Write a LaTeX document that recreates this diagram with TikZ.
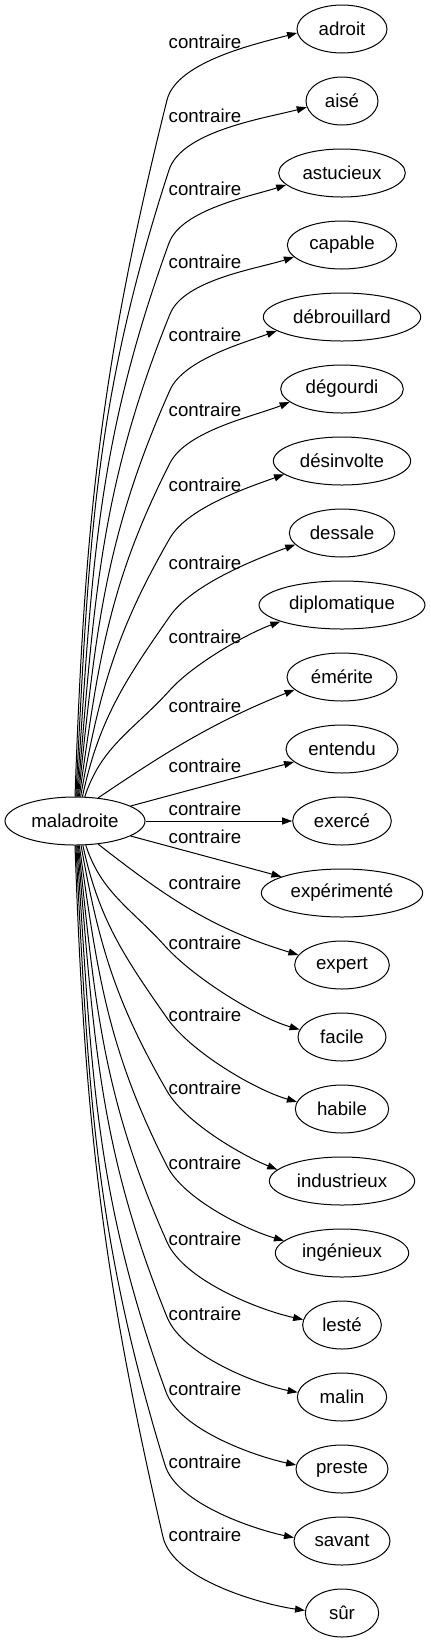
\documentclass[tikz,border=0pt]{standalone}
\usepackage{fontspec}
\setmainfont{Liberation Sans}
\usetikzlibrary{shapes.geometric, arrows.meta}

\begin{document}
\begin{tikzpicture}[
          x=0.75pt, y=0.75pt,
          every node/.style={font=\fontsize{14pt}{17pt}\selectfont, inner sep=0pt},
          word/.style={draw, ellipse, line width=0.75pt, minimum height=36pt, minimum width=#1},
          rel/.style={line width=0.75pt, -{Triangle[length=7.5pt, width=5.25pt]}}
        ]
        \useasboundingbox (0,0) rectangle (430,-1643);

        % Source word
        \node[word=105pt] (mal) at (75,-821) {maladroite};

        % Opposite words (right column)
        \node[word=67.5pt] (adroit) at (342,-29) {adroit};
        \node[word=54pt] (aise) at (342,-101) {aisé};
        \node[word=95pt] (astucieux) at (342,-173) {astucieux};
        \node[word=82pt] (capable) at (342,-245) {capable};
        \node[word=118pt] (debrouillard) at (342,-317) {débrouillard};
        \node[word=92pt] (degourdi) at (342,-389) {dégourdi};
        \node[word=103pt] (desinvolte) at (342,-461) {désinvolte};
        \node[word=79pt] (dessale) at (342,-533) {dessale};
        \node[word=124.5pt] (diplomatique) at (342,-605) {diplomatique};
        \node[word=82.5pt] (emerite) at (342,-677) {émérite};
        \node[word=84pt] (entendu) at (342,-749) {entendu};
        \node[word=74pt] (exerce) at (342,-821) {exercé};
        \node[word=121pt] (experimente) at (342,-893) {expérimenté};
        \node[word=71pt] (expert) at (342,-965) {expert};
        \node[word=66pt] (facile) at (342,-1037) {facile};
        \node[word=70pt] (habile) at (342,-1109) {habile};
        \node[word=109pt] (industrieux) at (342,-1181) {industrieux};
        \node[word=100pt] (ingenieux) at (342,-1253) {ingénieux};
        \node[word=59pt] (leste) at (342,-1325) {lesté};
        \node[word=67pt] (malin) at (342,-1397) {malin};
        \node[word=69pt] (preste) at (342,-1469) {preste};
        \node[word=72pt] (savant) at (342,-1541) {savant};
        \node[word=55pt] (sur) at (342,-1613) {sûr};

        % Edge labels
        \node (l-adroit) at (205,-42) {contraire};
        \node (l-aise) at (205,-116) {contraire};
        \node (l-astucieux) at (205,-189) {contraire};
        \node (l-capable) at (205,-262) {contraire};
        \node (l-debrouillard) at (205,-335) {contraire};
        \node (l-degourdi) at (205,-410) {contraire};
        \node (l-desinvolte) at (205,-485) {contraire};
        \node (l-dessale) at (205,-563) {contraire};
        \node (l-diplomatique) at (205,-637) {contraire};
        \node (l-emerite) at (205,-706) {contraire};
        \node (l-entendu) at (205,-766) {contraire};
        \node (l-exerce) at (205,-809) {contraire};
        \node (l-experimente) at (205,-837) {contraire};
        \node (l-expert) at (205,-883) {contraire};
        \node (l-facile) at (205,-943) {contraire};
        \node (l-habile) at (205,-1015) {contraire};
        \node (l-industrieux) at (205,-1088) {contraire};
        \node (l-ingenieux) at (205,-1163) {contraire};
        \node (l-leste) at (205,-1239) {contraire};
        \node (l-malin) at (205,-1314) {contraire};
        \node (l-preste) at (205,-1389) {contraire};
        \node (l-savant) at (205,-1462) {contraire};
        \node (l-sur) at (205,-1535) {contraire};

        % Upper edges
        \draw[rel] (mal.90) to[out=88, in=256] (167,-100) to[out=76, in=195, looseness=0.7] (adroit.185);
        \draw[rel] (mal.88) to[out=87, in=252] (169,-170) to[out=72, in=195, looseness=0.7] (aise.190);
        \draw[rel] (mal.86) to[out=86, in=250] (169,-243) to[out=70, in=198, looseness=0.7] (astucieux.192);
        \draw[rel] (mal.84) to[out=85, in=248] (170,-314) to[out=68, in=198, looseness=0.7] (capable.194);
        \draw[rel] (mal.82) to[out=84, in=246] (170,-390) to[out=66, in=200, looseness=0.7] (debrouillard.192);
        \draw[rel] (mal.80) to[out=82, in=243] (170,-463) to[out=63, in=202, looseness=0.7] (degourdi.194);
        \draw[rel] (mal.77) to[out=80, in=240] (170,-538) to[out=60, in=200, looseness=0.7] (desinvolte.193);
        \draw[rel] (mal.73) to[out=78, in=235] (170,-616) to[out=55, in=200, looseness=0.7] (dessale.194);
        \draw[rel] (mal.68) to[out=72, in=228] (170,-690) to[out=48, in=200, looseness=0.7] (diplomatique.195);
        \draw[rel] (mal.45) to[out=34, in=202] (emerite.195);

        % Middle edges
        \draw[rel] (mal) -- (entendu);
        \draw[rel] (mal) -- (exerce);
        \draw[rel] (mal) -- (experimente);

        % Lower edges
        \draw[rel] (mal.-45) to[out=-38, in=163] (expert.167);
        \draw[rel] (mal.-66) to[out=-72, in=132] (165,-946) to[out=-48, in=164, looseness=0.7] (facile.170);
        \draw[rel] (mal.-72) to[out=-78, in=125] (167,-1018) to[out=-55, in=164, looseness=0.7] (habile.171);
        \draw[rel] (mal.-76) to[out=-80, in=120] (167,-1091) to[out=-60, in=158, looseness=0.7] (industrieux.170);
        \draw[rel] (mal.-80) to[out=-82, in=117] (167,-1166) to[out=-63, in=164, looseness=0.7] (ingenieux.168);
        \draw[rel] (mal.-82) to[out=-84, in=114] (167,-1242) to[out=-66, in=168, looseness=0.7] (leste.172);
        \draw[rel] (mal.-84) to[out=-85, in=112] (167,-1317) to[out=-68, in=169, looseness=0.7] (malin.174);
        \draw[rel] (mal.-86) to[out=-86, in=110] (166,-1392) to[out=-70, in=168, looseness=0.7] (preste.175);
        \draw[rel] (mal.-88) to[out=-87, in=107] (165,-1465) to[out=-73, in=168, looseness=0.7] (savant.176);
        \draw[rel] (mal.-90) to[out=-88, in=103] (163,-1537) to[out=-77, in=172, looseness=0.7] (sur.176);

      \end{tikzpicture}
\end{document}
